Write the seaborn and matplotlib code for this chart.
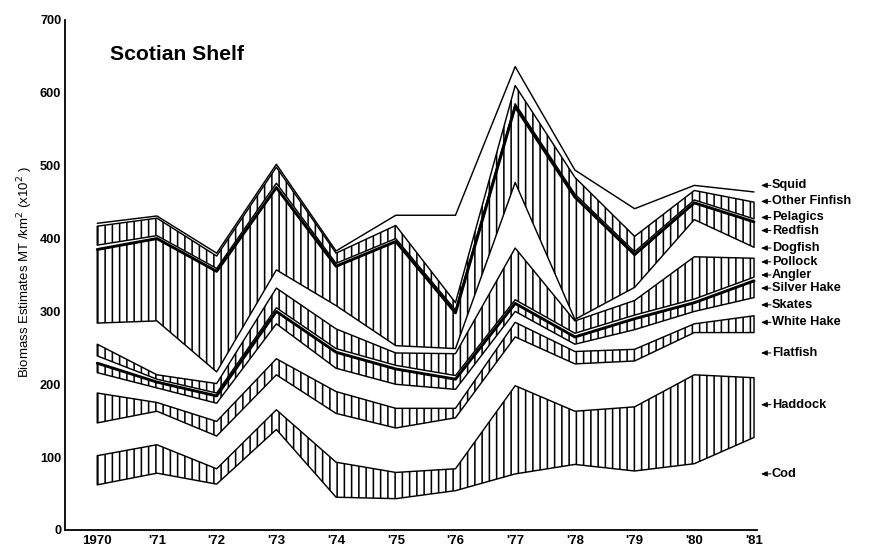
import numpy as np
import pandas as pd
import matplotlib
matplotlib.use("Agg")
import matplotlib.pyplot as plt
import seaborn as sns
from matplotlib.transforms import blended_transform_factory

# Survey years and axis labels
years = [1970, 1971, 1972, 1973, 1974, 1975, 1976, 1977, 1978, 1979, 1980, 1981]
year_labels = ["1970", "'71", "'72", "'73", "'74", "'75", "'76", "'77", "'78", "'79", "'80", "'81"]

# Biomass by species group, MT/km^2 (x10^2), stacked from the bottom up
cod = [62, 78, 63, 138, 45, 43, 54, 77, 90, 81, 91, 127]
haddock = [40, 39, 21, 27, 48, 36, 30, 121, 73, 88, 122, 82]
flatfish = [45, 46, 45, 48, 67, 61, 70, 67, 65, 63, 58, 62]
white_hake = [41, 12, 20, 22, 30, 27, 13, 20, 17, 16, 12, 23]
skates = [28, 20, 25, 48, 32, 33, 26, 15, 10, 27, 17, 25]
silver_hake = [13, 8, 10, 17, 22, 21, 14, 11, 10, 15, 12, 23]
angler = [10, 4, 4, 5, 5, 5, 5, 5, 5, 5, 5, 5]
pollock = [16, 6, 13, 27, 27, 17, 30, 71, 17, 20, 58, 26]
dogfish = [29, 74, 16, 25, 32, 10, 7, 90, 2, 18, 51, 15]
redfish = [101, 113, 138, 113, 54, 143, 49, 104, 168, 45, 23, 35]
pelagics = [6, 4, 4, 6, 4, 4, 4, 4, 4, 4, 4, 4]
other_finfish = [26, 24, 17, 22, 14, 18, 10, 25, 23, 21, 13, 23]
squid = [4, 3, 4, 4, 3, 14, 120, 26, 10, 38, 7, 14]

species = ["Cod", "Haddock", "Flatfish", "White Hake", "Skates", "Silver Hake",
           "Angler", "Pollock", "Dogfish", "Redfish", "Pelagics", "Other Finfish", "Squid"]
series = [cod, haddock, flatfish, white_hake, skates, silver_hake,
          angler, pollock, dogfish, redfish, pelagics, other_finfish, squid]
hatched = {"Haddock", "White Hake", "Silver Hake", "Pollock", "Redfish", "Other Finfish"}

# Right-hand label heights (in axis units) and their order
label_order = ["Squid", "Other Finfish", "Pelagics", "Redfish", "Dogfish", "Pollock",
               "Angler", "Silver Hake", "Skates", "White Hake", "Flatfish", "Haddock", "Cod"]
label_y = [473, 451, 429, 411, 387, 368, 350, 332, 309, 285, 243, 172, 77]

sns.set_theme(style="white")
plt.rcParams["font.family"] = ["Liberation Sans", "DejaVu Sans"]
plt.rcParams["hatch.linewidth"] = 1.3
plt.rcParams["hatch.color"] = "black"

DPI = 87
fig = plt.figure(figsize=(871 / DPI, 550 / DPI), dpi=DPI)
fig.patch.set_facecolor("white")
ax = fig.add_axes([65 / 871, 20 / 550, (757 - 65) / 871, 510 / 550])
ax.set_facecolor("white")

values = np.array(series, dtype=float)
tops = np.cumsum(values, axis=0)
bottoms = tops - values

long = pd.DataFrame({
    "year": np.tile(years, len(species)),
    "species": np.repeat(species, len(years)),
    "top": tops.ravel(),
    "bottom": bottoms.ravel(),
})

for name in species:
    d = long[long["species"] == name]
    if name in hatched:
        ax.fill_between(d["year"], d["bottom"], d["top"], facecolor="none",
                        edgecolor="black", hatch="||", linewidth=1.2, zorder=2)

# Outline of the whole stack
top_line = long[long["species"] == "Squid"]
sns.lineplot(data=top_line, x="year", y="top", color="black", linewidth=1.2,
             ax=ax, zorder=3)

# Heavier lines along the top of Redfish and Silver Hake
for name in ["Redfish", "Silver Hake"]:
    d = long[long["species"] == name]
    sns.lineplot(data=d, x="year", y="top", color="black", linewidth=2.4,
                 ax=ax, zorder=3)

ax.set_xlim(1969.46, 1981.05)
ax.set_ylim(0, 700)
ax.set_xticks(years)
ax.set_xticklabels(year_labels)
ax.set_yticks(range(0, 701, 100))
ax.set_xlabel("")
ax.set_ylabel("")
for s in ["top", "right"]:
    ax.spines[s].set_visible(False)
for s in ["left", "bottom"]:
    ax.spines[s].set_color("black")
    ax.spines[s].set_linewidth(1.5)
ax.tick_params(axis="both", direction="in", length=10, width=1.3, colors="black",
               labelsize=11, pad=4)
ax.tick_params(axis="y", labelsize=10.5, pad=3)
for lab in ax.get_xticklabels() + ax.get_yticklabels():
    lab.set_fontweight("bold")

# Species labels with small arrows on the right
trans = blended_transform_factory(fig.transFigure, ax.transData)
for name, y in zip(label_order, label_y):
    fig.text(772 / 871, y, name, transform=trans, fontsize=10.5, fontweight="bold",
             ha="left", va="center", color="black")
    ax.annotate("", xy=(761 / 871, y), xycoords=trans, xytext=(771 / 871, y),
                textcoords=trans,
                arrowprops=dict(arrowstyle="-|>,head_length=0.35,head_width=0.15",
                                lw=0.8, color="black", shrinkA=0, shrinkB=0))

fig.text(110 / 871, 1 - 55 / 550, "Scotian Shelf", fontsize=17.5, fontweight="bold",
         ha="left", va="center", color="black")
fig.text(25 / 871, 1 - 272 / 550, "Biomass Estimates MT /km$^2$ (x10$^2$ )",
         rotation=90, fontsize=11, ha="center", va="center", color="black")

fig.savefig("out.png", dpi=DPI, facecolor="white")
